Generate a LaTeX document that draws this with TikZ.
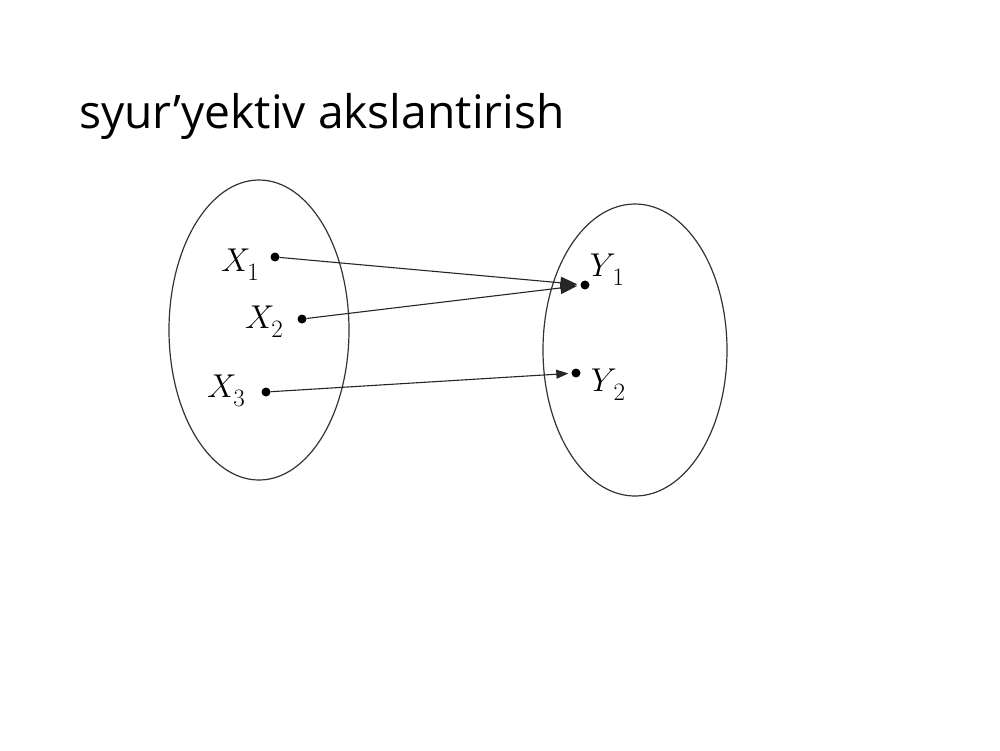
\RequirePackage{fix-cm}
\documentclass[tikz,border=0pt]{standalone}
\usepackage{fontspec}
\newfontfamily\titlefont{Open Sans}
\usetikzlibrary{arrows.meta,shapes.geometric}
\newcommand{\elem}[2]{$#1$\kern-3pt\raisebox{-9pt}{\fontsize{25}{27}\selectfont #2}}
\begin{document}
\begin{tikzpicture}[x=1pt,y=-1pt,
  setell/.style={draw=black!80,line width=1.2pt,ellipse,inner sep=0pt},
  pt/.style={circle,fill=black,inner sep=0pt,minimum size=9pt},
  lbl/.style={font=\fontsize{33}{36}\selectfont,inner sep=0pt},
  maparrow/.style={draw=black!85,line width=1.1pt,-{Triangle[length=17pt,width=12pt]},shorten >=3pt}]
\useasboundingbox (0,0) rectangle (1000,750);
\node[anchor=base west,inner sep=0pt,font=\titlefont\fontsize{46.2}{50}\selectfont] (title) at (79,128) {syur’yektiv akslantirish};
\node[setell,minimum width=180pt,minimum height=300pt] (A) at (259,330) {};
\node[setell,minimum width=184pt,minimum height=292pt] (B) at (635,350) {};
\node[pt] (x1) at (275,257) {};
\node[pt] (x2) at (302,319) {};
\node[pt] (x3) at (266,392) {};
\node[pt] (y1) at (585,285) {};
\node[pt] (y2) at (576,373) {};
\node[lbl] (lx1) at (240,265) {\elem{X}{1}};
\node[lbl] (lx2) at (264,322) {\elem{X}{2}};
\node[lbl] (lx3) at (226,391) {\elem{X}{3}};
\node[lbl] (ly1) at (607,270) {\elem{Y}{1}};
\node[lbl] (ly2) at (608,385) {\elem{Y}{2}};
\draw[maparrow] (x1) -- (y1);
\draw[maparrow] (x2) -- (y1);
\draw[maparrow,-{Triangle[length=12pt,width=9pt]}] (x3) -- (y2);
\end{tikzpicture}
\end{document}
